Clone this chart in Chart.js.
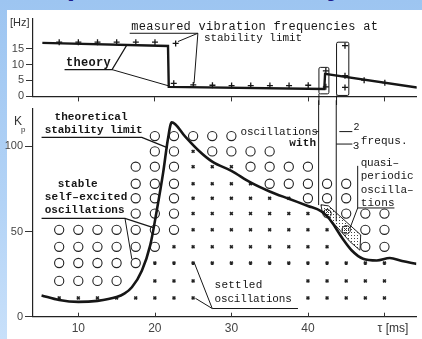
<!DOCTYPE html>
<html>
<head>
<meta charset="utf-8">
<script src="https://cdn.jsdelivr.net/npm/chart.js@4.4.1/dist/chart.umd.min.js"></script>
<style>
html, body { margin: 0; padding: 0; width: 422px; height: 339px; overflow: hidden; }
body { position: relative; background: linear-gradient(180deg, #9dc5f1 0%, #b3d3f6 60%, #c8e0fa 100%); }
#title { position: absolute; left: 30px; top: -30px; font: bold 30px "Liberation Sans", Arial, sans-serif; line-height: 30px; color: #1b1b8e; white-space: nowrap; }
#panel { position: absolute; left: 7px; top: 10px; width: 415px; height: 329px; background: #fff; }
#top { position: absolute; left: 0; top: 10px; }
#bottom { position: absolute; left: 0; top: 100px; }
</style>
</head>
<body>
<div id="title">Experimental Stability</div>
<div id="panel"></div>
<canvas id="top" width="422" height="95"></canvas>
<canvas id="bottom" width="422" height="239"></canvas>
<script>
// axes
const tauTicks = [10, 20, 30, 40, 50];
const hzTicks = [0, 5, 10, 15];
const kpTicks = [0, 50, 100];

// upper panel: vibration frequency at the stability limit [Hz]
const theoryTau = [5.3, 21.7, 21.8, 42.1, 42.2, 54.2];
const theoryHz = [16.8, 15.8, 3.0, 2.3, 7.1, 2.8];
const measTau = [7.5, 10, 12.5, 15, 17.5, 20, 22.7, 22.45, 25, 27.5, 30, 32.5, 35, 37.5, 40, 42.3, 42.3, 44.8, 44.8, 44.8, 47.3, 50];
const measHz = [17, 17, 17, 17, 17, 17, 16.6, 4.1, 3.6, 3.5, 3.4, 3.4, 3.4, 3.4, 3.5, 8.0, 3.0, 15.9, 6.5, 2.8, 5.1, 4.3];

// lower panel: theoretical stability limit Kp(tau)
const limitTau = [5.2, 7.5, 10, 12.5, 15, 16, 17, 18.3, 19.4, 20.2, 21.1, 21.7, 22.2, 24, 25.6, 27.5, 30, 32.5, 35, 37.5, 40, 41.7, 42.5, 43.2, 44.5, 45.7, 47.2, 49, 50.7, 52.3, 54.2];
const limitKp = [12.5, 9.8, 8.7, 9.3, 11.5, 13.5, 17.3, 27, 42, 61, 85, 104, 114, 105.5, 98, 91, 85.6, 78.8, 73.5, 69.2, 65, 62, 59, 55, 46, 39, 34, 33, 34.4, 32.7, 31];

// experiments: o = self-excited oscillation, x = settled, q = quasi-periodic, . = none
const gridTau = [7.5, 10, 12.5, 15, 17.5, 20, 22.5, 25, 27.5, 30, 32.5, 35, 37.5, 40, 42.5, 45, 47.5, 50];
const gridKp = [11, 21, 31.5, 41, 51, 60.5, 69.5, 78, 88, 97, 106];
const gridMarks = [
  'xxxxxxxx.....xxxxx',
  'oooo.xxx.....xxxxx',
  'oooooxxxxxxxxxxxxx',
  'ooooooxxxxxxxxx.oo',
  'oooooooxxxxxxxxqoo',
  '....oooxxxxxxxqooo',
  '....oooxxxxxxooo..',
  '....oooxxxxooooo..',
  '....oooxxxoooo....',
  '.....ooxoooo......',
  '.....ooooo........'
];

// region with 2 / 3 frequencies
const quasiTau = [41.7, 42.7, 46.9, 46.8, 45.5, 43, 41.9, 41.7];
const quasiKp = [65.7, 65, 48, 39, 44, 56.7, 60.6, 65.7];

const INK = '#161616';
const MONO = '"Liberation Mono", "DejaVu Sans Mono", monospace';
const SANS = '"Liberation Sans", Arial, sans-serif';

function pts(xs, ys) {
  return xs.map((v, i) => ({ x: v, y: ys[i] }));
}

function gridPoints(mark) {
  const out = [];
  gridMarks.forEach((row, r) => {
    for (let c = 0; c < row.length; c++) {
      if (row[c] === mark) out.push({ x: gridTau[c], y: gridKp[r] });
    }
  });
  return out;
}

function stipple(canvas, step, color) {
  const c = document.createElement('canvas');
  c.width = step; c.height = step;
  const g = c.getContext('2d');
  g.fillStyle = color;
  g.fillRect(0, 0, 1, 1);
  return canvas.getContext('2d').createPattern(c, 'repeat');
}

function drawText(ctx, text, x, y, size, width, weight) {
  ctx.font = (weight || 'normal') + ' ' + size + 'px ' + MONO;
  ctx.letterSpacing = '0px';
  if (width) {
    const w = ctx.measureText(text).width;
    ctx.letterSpacing = ((width - w) / text.length) + 'px';
  }
  ctx.fillText(text, x, y);
  ctx.letterSpacing = '0px';
}

// labels and leader lines, given in data units of each panel
function notesPlugin(notes) {
  return {
    id: 'notes',
    afterDatasetsDraw(chart) {
      const { ctx, scales: { x, y } } = chart;
      const X = v => x.getPixelForValue(v);
      const Y = v => y.getPixelForValue(v);
      ctx.save();
      ctx.strokeStyle = INK;
      ctx.fillStyle = INK;
      (notes.lines || []).forEach(line => {
        ctx.lineWidth = line.w || 1;
        ctx.beginPath();
        line.forEach(([a, b], i) => i ? ctx.lineTo(X(a), Y(b)) : ctx.moveTo(X(a), Y(b)));
        ctx.stroke();
      });
      ctx.lineWidth = 1;
      (notes.boxes || []).forEach(b => {
        ctx.beginPath();
        ctx.roundRect(X(b[0]), Y(b[3]), X(b[1]) - X(b[0]), Y(b[2]) - Y(b[3]), 1.5);
        ctx.stroke();
      });
      ctx.textBaseline = 'middle';
      ctx.textAlign = 'left';
      (notes.texts || []).forEach(t => drawText(ctx, t[0], X(t[1]), Y(t[2]), t[3], t[4], t[5]));
      ctx.restore();
    }
  };
}

function thick(line, w) {
  line.w = w;
  return line;
}

const tickFont = { family: SANS, size: 11 };

// ---------- upper panel ----------
const topCanvas = document.getElementById('top');
new Chart(topCanvas, {
  type: 'line',
  data: {
    datasets: [
      { data: pts(theoryTau, theoryHz), borderColor: INK, borderWidth: 2.4, pointRadius: 0, tension: 0 },
      { data: pts(measTau, measHz), showLine: false, pointStyle: 'cross', pointRadius: 3, borderWidth: 1.3, borderColor: INK }
    ]
  },
  options: {
    responsive: false,
    devicePixelRatio: 1,
    animation: false,
    events: [],
    layout: { padding: { top: 8, left: 0, right: 0, bottom: 0 } },
    plugins: { legend: { display: false }, tooltip: { enabled: false } },
    scales: {
      x: {
        type: 'linear', min: 4.08, max: 54.16,
        afterBuildTicks: s => { s.ticks = tauTicks.map(v => ({ value: v })); },
        afterFit: s => { s.height = 5.7; },
        ticks: { display: false },
        grid: { drawOnChartArea: false, tickLength: 5, color: '#333' },
        border: { color: '#222', width: 1.2 }
      },
      y: {
        min: 0, max: 24.4,
        afterBuildTicks: s => { s.ticks = hzTicks.map(v => ({ value: v })); },
        afterFit: s => { s.width = 33; },
        ticks: { font: tickFont, color: '#444', padding: 2 },
        grid: { drawOnChartArea: false, tickLength: 7, color: '#333' },
        border: { color: '#222', width: 1.2 }
      }
    }
  },
  plugins: [
    notesPlugin({
      lines: [
        [[16.7, 19.8], [25.6, 19.8], [23.0, 17.2]],
        [[25.6, 19.8], [25.1, 4.1]],
        thick([[8.2, 8.4], [14.4, 8.4], [16.3, 16.0]], 1.2),
        [[14.4, 8.4], [21.8, 3.3]],
        [[41.4, 0.8], [41.4, -3]],
        [[43.7, 0.3], [43.7, -3]]
      ],
      boxes: [[41.4, 42.7, 0.8, 9.1], [43.7, 45.3, 0.3, 17.0]],
      texts: [
        ['measured vibration frequencies at', 16.9, 21.9, 12, 247],
        ['stability limit', 26.4, 18.4, 11, 98],
        ['theory', 8.4, 10.6, 12, 45, 'bold']
      ]
    }),
    {
      id: 'hzTitle',
      afterDraw(chart) {
        const { ctx, chartArea } = chart;
        ctx.save();
        ctx.fillStyle = '#333';
        ctx.font = '11px ' + SANS;
        ctx.textBaseline = 'middle';
        ctx.fillText('[Hz]', chartArea.left - 23, chartArea.top + 4);
        ctx.restore();
      }
    }
  ]
});

// ---------- lower panel ----------
const botCanvas = document.getElementById('bottom');
new Chart(botCanvas, {
  type: 'line',
  data: {
    datasets: [
      { data: pts(limitTau, limitKp), borderColor: INK, borderWidth: 2.6, pointRadius: 0, cubicInterpolationMode: 'monotone' },
      { data: gridPoints('o'), showLine: false, pointStyle: 'circle', pointRadius: 4.6, borderWidth: 1.1, borderColor: '#222', backgroundColor: 'rgba(0,0,0,0)' },
      { data: gridPoints('x'), showLine: false, pointStyle: 'crossRot', pointRadius: 2, borderWidth: 1.6, borderColor: '#222' },
      { data: gridPoints('q'), showLine: false, pointStyle: 'circle', pointRadius: 4.2, borderWidth: 1, borderColor: '#222', backgroundColor: stipple(botCanvas, 2, '#333') },
      { data: pts(quasiTau, quasiKp), borderColor: '#222', borderWidth: 1, pointRadius: 0, tension: 0, fill: 'shape', backgroundColor: stipple(botCanvas, 3, '#444') }
    ]
  },
  options: {
    responsive: false,
    devicePixelRatio: 1,
    animation: false,
    events: [],
    layout: { padding: { top: 5, left: 0, right: 0, bottom: 0 } },
    plugins: { legend: { display: false }, tooltip: { enabled: false } },
    scales: {
      x: {
        type: 'linear', min: 4.08, max: 54.16,
        afterBuildTicks: s => { s.ticks = tauTicks.map(v => ({ value: v })); },
        afterFit: s => { s.height = 22.3; },
        ticks: { font: { family: SANS, size: 12 }, color: '#444', padding: 5, callback: v => v === 50 ? '' : v },
        grid: { drawOnChartArea: false, drawTicks: false },
        border: { color: '#222', width: 1.2 }
      },
      y: {
        min: 0, max: 122.1,
        afterBuildTicks: s => { s.ticks = kpTicks.map(v => ({ value: v })); },
        afterFit: s => { s.width = 33; },
        ticks: { font: tickFont, color: '#444', padding: 2 },
        grid: { drawOnChartArea: false, tickLength: 8, color: '#333' },
        border: { color: '#222', width: 1.2 }
      }
    }
  },
  plugins: [
    notesPlugin({
      lines: [
        thick([[5.2, 105.2], [18.3, 105.2], [21.7, 99]], 1.4),
        thick([[5.2, 57.7], [16.1, 57.7], [19.8, 52.3]], 1.2),
        [[16.1, 57.7], [17, 33.7]],
        [[38.7, 4.8], [27.5, 4.8], [25.3, 10.8]],
        [[27.5, 4.8], [25.15, 31.7]],
        [[41.4, 127], [41.4, 65.5]],
        [[43.7, 127], [43.7, 56]],
        [[41.0, 108.6], [41.4, 108.6]],
        [[44.1, 108.6], [45.8, 108.6]],
        [[43.7, 101.3], [45.8, 101.3]],
        [[46.5, 88.5], [46.5, 63.8], [51.3, 63.8]],
        [[46.5, 63.8], [45.5, 52]]
      ],
      texts: [
        ['theoretical', 6.9, 117.3, 11, 73, 'bold'],
        ['stability limit', 5.6, 109.2, 11, 98, 'bold'],
        ['stable', 7.3, 77.9, 11, 40, 'bold'],
        ['self\u2013excited', 5.6, 70.2, 11, 83, 'bold'],
        ['oscillations', 5.6, 62.5, 11, 80, 'bold'],
        ['settled', 27.8, 18.3, 11, 48],
        ['oscillations', 27.8, 10.6, 11, 77],
        ['oscillations', 31.2, 108.6, 11, 77],
        ['with', 37.55, 101.5, 11, 27, 'bold'],
        ['2', 45.95, 110.8, 10],
        ['3', 45.85, 100.3, 11],
        ['frequs.', 46.9, 102.9, 11, 47],
        ['quasi\u2013', 46.9, 90.4, 11, 38],
        ['periodic', 46.9, 82.3, 11, 53],
        ['oscilla\u2013', 46.9, 74.2, 11, 53],
        ['tions', 46.9, 66.7, 11, 34]
      ]
    }),
    {
      id: 'axisExtras',
      afterDraw(chart) {
        const { ctx, chartArea, scales: { x } } = chart;
        ctx.save();
        // inward ticks on the time axis
        ctx.strokeStyle = '#333';
        ctx.lineWidth = 1;
        x.ticks.forEach(t => {
          const px = Math.round(x.getPixelForValue(t.value)) + 0.5;
          ctx.beginPath();
          ctx.moveTo(px, chartArea.bottom);
          ctx.lineTo(px, chartArea.bottom - 4);
          ctx.stroke();
        });
        ctx.fillStyle = '#333';
        ctx.textBaseline = 'middle';
        ctx.font = '12px ' + SANS;
        ctx.fillText('\u03c4 [ms]', x.getPixelForValue(49.1), chartArea.bottom + 11.5);
        ctx.font = '12px ' + SANS;
        ctx.fillText('K', chartArea.left - 19, chartArea.top + 13);
        ctx.font = '8px ' + SANS;
        ctx.fillText('p', chartArea.left - 12, chartArea.top + 21);
        ctx.restore();
      }
    }
  ]
});
</script>
</body>
</html>
